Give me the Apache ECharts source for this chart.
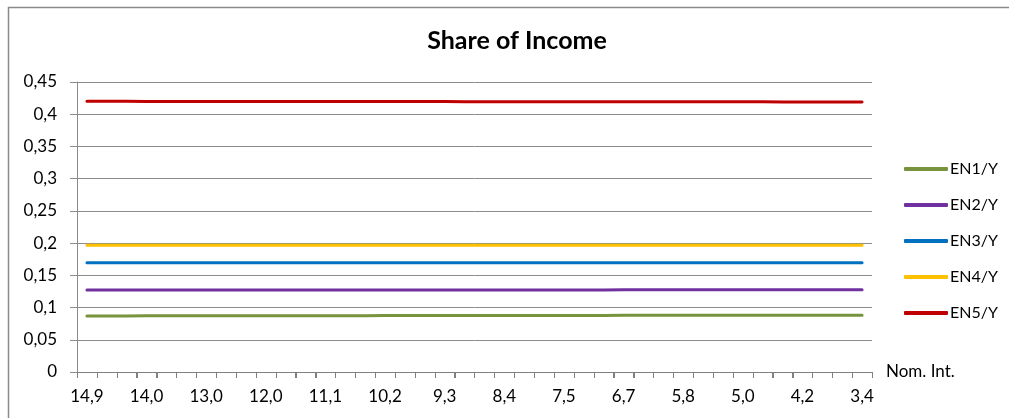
<!DOCTYPE html>
<html>
<head>
<meta charset="utf-8">
<script src="https://cdn.jsdelivr.net/npm/echarts@6/dist/echarts.min.js"></script>
<style>
  html, body { margin: 0; padding: 0; background: #ffffff; }
  #chart { width: 1009px; height: 418px; }
</style>
</head>
<body>
<div id="chart"></div>
<script>
// Nominal interest rate (category axis, high to low)
var rates = [
  '14,9', '14,6', '14,3', '14,0', '13,7', '13,3', '13,0', '12,7', '12,3', '12,0',
  '11,7', '11,4', '11,1', '10,8', '10,5', '10,2', '9,9', '9,6', '9,3', '9,0',
  '8,7', '8,4', '8,1', '7,8', '7,5', '7,2', '7,0', '6,7', '6,4', '6,1',
  '5,8', '5,5', '5,3', '5,0', '4,7', '4,5', '4,2', '3,9', '3,7', '3,4'
];

var seriesNames = ['EN1/Y', 'EN2/Y', 'EN3/Y', 'EN4/Y', 'EN5/Y'];

// Income share of each group
var en1 = [
  0.0870, 0.0870, 0.0870, 0.0871, 0.0871, 0.0871, 0.0872, 0.0872, 0.0872, 0.0873,
  0.0873, 0.0873, 0.0874, 0.0874, 0.0874, 0.0875, 0.0875, 0.0875, 0.0876, 0.0876,
  0.0876, 0.0877, 0.0877, 0.0877, 0.0878, 0.0878, 0.0878, 0.0879, 0.0879, 0.0879,
  0.0880, 0.0880, 0.0880, 0.0881, 0.0881, 0.0881, 0.0882, 0.0882, 0.0882, 0.0882
];
var en2 = [
  0.1272, 0.1272, 0.1272, 0.1272, 0.1272, 0.1272, 0.1272, 0.1273, 0.1273, 0.1273,
  0.1273, 0.1273, 0.1273, 0.1273, 0.1273, 0.1273, 0.1273, 0.1274, 0.1274, 0.1274,
  0.1274, 0.1274, 0.1274, 0.1274, 0.1274, 0.1274, 0.1274, 0.1275, 0.1275, 0.1275,
  0.1275, 0.1275, 0.1275, 0.1275, 0.1275, 0.1275, 0.1275, 0.1275, 0.1275, 0.1275
];
var en3 = [
  0.1697, 0.1697, 0.1697, 0.1697, 0.1697, 0.1697, 0.1697, 0.1697, 0.1697, 0.1697,
  0.1697, 0.1697, 0.1697, 0.1697, 0.1697, 0.1697, 0.1697, 0.1697, 0.1697, 0.1697,
  0.1697, 0.1697, 0.1697, 0.1697, 0.1697, 0.1697, 0.1697, 0.1697, 0.1697, 0.1697,
  0.1697, 0.1697, 0.1697, 0.1697, 0.1697, 0.1697, 0.1697, 0.1697, 0.1697, 0.1697
];
var en4 = [
  0.1968, 0.1968, 0.1968, 0.1968, 0.1968, 0.1968, 0.1968, 0.1968, 0.1967, 0.1967,
  0.1967, 0.1967, 0.1967, 0.1967, 0.1967, 0.1967, 0.1967, 0.1967, 0.1967, 0.1967,
  0.1967, 0.1967, 0.1967, 0.1966, 0.1966, 0.1966, 0.1966, 0.1966, 0.1966, 0.1966,
  0.1966, 0.1966, 0.1966, 0.1966, 0.1966, 0.1966, 0.1966, 0.1966, 0.1966, 0.1966
];
var en5 = [
  0.4200, 0.4200, 0.4200, 0.4199, 0.4199, 0.4199, 0.4199, 0.4198, 0.4198, 0.4198,
  0.4198, 0.4197, 0.4197, 0.4197, 0.4197, 0.4196, 0.4196, 0.4196, 0.4196, 0.4195,
  0.4195, 0.4195, 0.4195, 0.4194, 0.4194, 0.4194, 0.4194, 0.4193, 0.4193, 0.4193,
  0.4193, 0.4192, 0.4192, 0.4192, 0.4192, 0.4191, 0.4191, 0.4191, 0.4191, 0.4190
];

var colors = ['#77933C', '#7030A0', '#0070C0', '#FFC000', '#C00000'];
var values = [en1, en2, en3, en4, en5];

var FONT = 'Lato, "Open Sans", sans-serif';
var GRID_GRAY = '#8c8c8c';
var TICK_GRAY = '#808080';
var TICK_LEN = 6;

var chart = echarts.init(document.getElementById('chart'));

var series = seriesNames.map(function (name, i) {
  return {
    name: name,
    type: 'line',
    data: values[i],
    symbol: 'none',
    showSymbol: false,
    lineStyle: { color: colors[i], width: 3, cap: 'round' },
    itemStyle: { color: colors[i] }
  };
});

// Tick marks on every category boundary of the x axis, placed through the axis scale
series.push({
  name: 'ticks',
  type: 'custom',
  silent: true,
  clip: false,
  z: 1,
  data: rates.map(function (r, i) { return [i]; }),
  encode: { x: 0 },
  renderItem: function (params, api) {
    var idx = api.value(0);
    var p = api.coord([idx, 0]);
    var half = api.size([1, 0])[0] / 2;
    var xs = [p[0] - half];
    if (idx === rates.length - 1) xs.push(p[0] + half);
    return {
      type: 'group',
      children: xs.map(function (x) {
        var cx = Math.round(x) + 0.5;
        return {
          type: 'line',
          shape: { x1: cx, y1: Math.round(p[1]), x2: cx, y2: Math.round(p[1]) + TICK_LEN },
          style: { stroke: TICK_GRAY, lineWidth: 1 }
        };
      })
    };
  }
});

chart.setOption({
  animation: false,
  backgroundColor: '#ffffff',
  textStyle: { fontFamily: FONT },
  graphic: [{
    type: 'rect',
    shape: { x: 8.5, y: 7.5, width: 1100, height: 500 },
    style: { fill: 'none', stroke: '#8a8a8a', lineWidth: 1.5 },
    silent: true
  }],
  title: {
    text: 'Share of Income',
    left: 512,
    textAlign: 'center',
    top: 23,
    textStyle: { fontFamily: FONT, fontWeight: 'bold', fontSize: 25, color: '#000000' }
  },
  legend: {
    orient: 'vertical',
    left: 899,
    top: 156,
    itemWidth: 44,
    itemHeight: 4,
    itemGap: 20,
    icon: 'roundRect',
    textStyle: { fontFamily: FONT, fontSize: 16, color: '#000000', padding: [0, 0, 0, -3] },
    data: seriesNames
  },
  grid: { left: 77, right: 137, top: 82, bottom: 46 },
  xAxis: {
    type: 'category',
    data: rates,
    name: 'Nom. Int.',
    nameLocation: 'end',
    nameGap: 14,
    nameTextStyle: { fontFamily: FONT, fontSize: 17, color: '#000000', padding: [6, 0, 0, 0] },
    axisLine: { lineStyle: { color: TICK_GRAY, width: 1 } },
    axisTick: { show: true, interval: 0, length: TICK_LEN, lineStyle: { color: TICK_GRAY, width: 1 } },
    axisLabel: { interval: 2, margin: 16, fontFamily: FONT, fontSize: 17, color: '#000000' }
  },
  yAxis: {
    type: 'value',
    min: 0,
    max: 0.45,
    interval: 0.05,
    axisLine: { show: true, lineStyle: { color: GRID_GRAY, width: 1 } },
    axisTick: { show: true, length: 7, lineStyle: { color: GRID_GRAY } },
    axisLabel: {
      margin: 20,
      fontFamily: FONT,
      fontSize: 17,
      color: '#000000',
      formatter: function (v) { return String(+v.toFixed(2)).replace('.', ','); }
    },
    splitLine: { show: true, lineStyle: { color: GRID_GRAY, width: 1 } }
  },
  series: series
});
</script>
</body>
</html>
